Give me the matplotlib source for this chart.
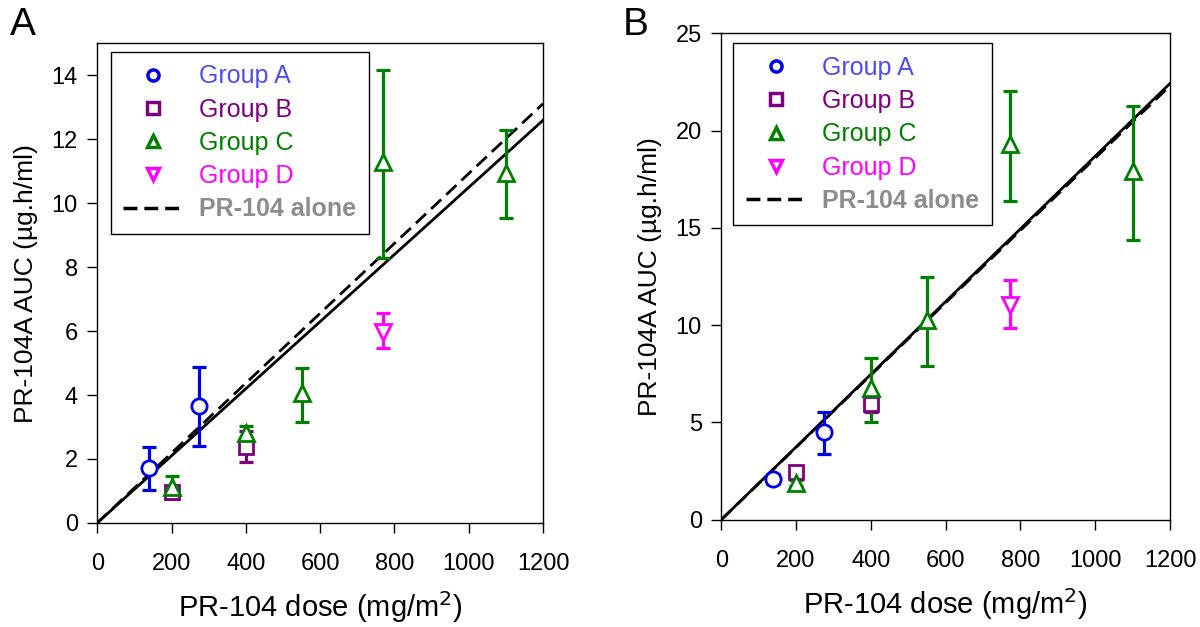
import matplotlib
matplotlib.use("Agg")
import matplotlib.pyplot as plt
from matplotlib.lines import Line2D

plt.rcParams['font.family'] = ['Liberation Sans', 'DejaVu Sans']

# Panel A data (dose, AUC, lower err, upper err)
a_grpA_x = [140, 274]
a_grpA_y = [1.72, 3.66]
a_grpA_lo = [0.70, 1.26]
a_grpA_hi = [0.64, 1.23]

a_grpB_x = [200, 400]
a_grpB_y = [0.97, 2.38]
a_grpB_lo = [0.15, 0.48]
a_grpB_hi = [0.15, 0.50]

a_grpC_x = [200, 400, 551, 770, 1101]
a_grpC_y = [1.13, 2.80, 4.05, 11.30, 10.94]
a_grpC_lo = [0.37, 0.21, 0.89, 3.02, 1.39]
a_grpC_hi = [0.33, 0.23, 0.78, 2.85, 1.36]

a_grpD_x = [770]
a_grpD_y = [5.98]
a_grpD_lo = [0.50]
a_grpD_hi = [0.58]

a_fit_x = [0, 1200]
a_fit_solid = [0, 12.59]
a_fit_dashed = [0, 13.11]

# Panel B data
b_grpA_x = [138, 274]
b_grpA_y = [2.11, 4.52]
b_grpA_lo = [0.25, 1.12]
b_grpA_hi = [0.26, 1.03]

b_grpB_x = [200, 400]
b_grpB_y = [2.46, 5.95]
b_grpB_lo = [0.20, 0.40]
b_grpB_hi = [0.20, 0.29]

b_grpC_x = [200, 400, 550, 772, 1100]
b_grpC_y = [1.91, 6.75, 10.27, 19.30, 17.92]
b_grpC_lo = [0.15, 1.72, 2.35, 2.93, 3.52]
b_grpC_hi = [0.15, 1.58, 2.23, 2.74, 3.35]

b_grpD_x = [772]
b_grpD_y = [11.05]
b_grpD_lo = [1.20]
b_grpD_hi = [1.29]

b_fit_x = [0, 1200]
b_fit_solid = [0, 22.42]
b_fit_dashed = [0, 22.30]

col_a = '#0000e6'
col_b = '#7f007f'
col_c = '#008000'
col_d = '#ff00ff'
txt_a = '#4d4df5'
txt_b = '#7f007f'
txt_c = '#008000'
txt_d = '#ff00ff'
txt_alone = '#8c8c8c'

fig = plt.figure(figsize=(12, 6.27), dpi=100)
axA = fig.add_axes([0.081, 0.166, 0.3715, 0.765])
axB = fig.add_axes([0.601, 0.171, 0.374, 0.776])


def draw_group(ax, x, y, lo, hi, marker, color, ms):
    ax.errorbar(x, y, yerr=[lo, hi], fmt='none', ecolor=color, elinewidth=2.3,
                capsize=5, capthick=2.3, zorder=3)
    ax.plot(x, y, linestyle='none', marker=marker, markersize=ms, markeredgewidth=2,
            markeredgecolor=color, markerfacecolor='white', zorder=4)


def panel(ax, data, fit_x, fit_solid, fit_dashed, ymax, ystep, leg_bbox):
    ax.plot(fit_x, fit_solid, color='black', lw=2, zorder=2)
    ax.plot(fit_x, fit_dashed, color='black', lw=2, dashes=(5, 2.5), zorder=2)
    draw_group(ax, *data[0], 'o', col_a, 11)
    draw_group(ax, *data[1], 's', col_b, 10)
    draw_group(ax, *data[2], '^', col_c, 12)
    draw_group(ax, *data[3], 'v', col_d, 12)
    ax.set_xlim(0, 1200)
    ax.set_ylim(0, ymax)
    ax.set_xticks(range(0, 1201, 200))
    ax.set_yticks(range(0, int(ymax) + 1, ystep))
    ax.tick_params(direction='out', length=7, width=1, labelsize=17, pad=7)
    ax.tick_params(axis='x', pad=15)
    for s in ax.spines.values():
        s.set_linewidth(1)
    ax.set_xlabel('PR-104 dose (mg/m$^2$)', fontsize=21, labelpad=10)
    ax.set_ylabel('PR-104A AUC (µg.h/ml)', fontsize=19, labelpad=10)

    handles = [
        Line2D([], [], linestyle='none', marker='o', markersize=8, markeredgewidth=2.5,
               markeredgecolor=col_a, markerfacecolor='white'),
        Line2D([], [], linestyle='none', marker='s', markersize=8, markeredgewidth=2.5,
               markeredgecolor=col_b, markerfacecolor='white'),
        Line2D([], [], linestyle='none', marker='^', markersize=9, markeredgewidth=2.5,
               markeredgecolor=col_c, markerfacecolor='white'),
        Line2D([], [], linestyle='none', marker='v', markersize=9, markeredgewidth=2.5,
               markeredgecolor=col_d, markerfacecolor='white'),
        Line2D([], [], color='black', lw=2.5, dashes=(4, 2)),
    ]
    labels = ['Group A', 'Group B', 'Group C', 'Group D', 'PR-104 alone']
    leg = ax.legend(handles, labels, loc='upper left', bbox_to_anchor=leg_bbox,
                    fontsize=18, frameon=True, fancybox=False, edgecolor='black',
                    framealpha=1, handlelength=2.4, handletextpad=0.65,
                    labelspacing=0.37, borderpad=0.5, borderaxespad=0)
    leg.get_frame().set_linewidth(1)
    leg.set_zorder(10)
    for t, c in zip(leg.get_texts(), [txt_a, txt_b, txt_c, txt_d, txt_alone]):
        t.set_color(c)
    leg.get_texts()[4].set_fontweight('bold')


panel(axA,
      [(a_grpA_x, a_grpA_y, a_grpA_lo, a_grpA_hi),
       (a_grpB_x, a_grpB_y, a_grpB_lo, a_grpB_hi),
       (a_grpC_x, a_grpC_y, a_grpC_lo, a_grpC_hi),
       (a_grpD_x, a_grpD_y, a_grpD_lo, a_grpD_hi)],
      a_fit_x, a_fit_solid, a_fit_dashed, 15, 2, (0.030, 0.982))
panel(axB,
      [(b_grpA_x, b_grpA_y, b_grpA_lo, b_grpA_hi),
       (b_grpB_x, b_grpB_y, b_grpB_lo, b_grpB_hi),
       (b_grpC_x, b_grpC_y, b_grpC_lo, b_grpC_hi),
       (b_grpD_x, b_grpD_y, b_grpD_lo, b_grpD_hi)],
      b_fit_x, b_fit_solid, b_fit_dashed, 25, 5, (0.027, 0.979))

fig.text(0.008, 0.944, 'A', fontsize=28, va='baseline')
fig.text(0.519, 0.944, 'B', fontsize=28, va='baseline')

fig.savefig('out.png', dpi=100)
